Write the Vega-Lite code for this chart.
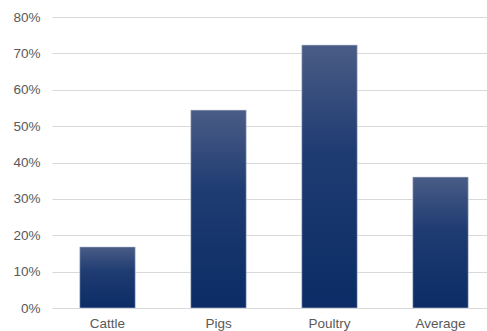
{
  "$schema": "https://vega.github.io/schema/vega-lite/v6.json",
  "autosize": "none",
  "padding": {"left": 52, "top": 17, "right": 0, "bottom": 23},
  "width": 444,
  "height": 291,
  "background": "white",
  "data": {
    "values": [
      {"species": "Cattle", "share": 0.168},
      {"species": "Pigs", "share": 0.544},
      {"species": "Poultry", "share": 0.723},
      {"species": "Average", "share": 0.36}
    ]
  },
  "mark": {
    "type": "bar",
    "fill": {
      "gradient": "linear",
      "x1": 0, "y1": 0, "x2": 0, "y2": 1,
      "stops": [
        {"offset": 0, "color": "#4a5c86"},
        {"offset": 0.4, "color": "#1f3c72"},
        {"offset": 1, "color": "#0b2c66"}
      ]
    },
    "stroke": "#c9cfdc",
    "strokeWidth": 0.6
  },
  "encoding": {
    "x": {
      "field": "species",
      "type": "nominal",
      "sort": null,
      "scale": {"paddingInner": 0.5, "paddingOuter": 0.25},
      "axis": {
        "title": null,
        "labelAngle": 0,
        "domain": false,
        "ticks": false,
        "labelFont": "Liberation Sans",
        "labelFontSize": 13.5,
        "labelColor": "#595959",
        "labelPadding": 8
      }
    },
    "y": {
      "field": "share",
      "type": "quantitative",
      "scale": {"domain": [0, 0.8]},
      "axis": {
        "title": null,
        "format": ".0%",
        "values": [0, 0.1, 0.2, 0.3, 0.4, 0.5, 0.6, 0.7, 0.8],
        "domain": false,
        "ticks": false,
        "grid": true,
        "gridColor": "#d9d9d9",
        "labelFont": "Liberation Sans",
        "labelFontSize": 13.5,
        "labelColor": "#595959",
        "labelPadding": 12
      }
    }
  },
  "config": {"view": {"stroke": null}}
}
